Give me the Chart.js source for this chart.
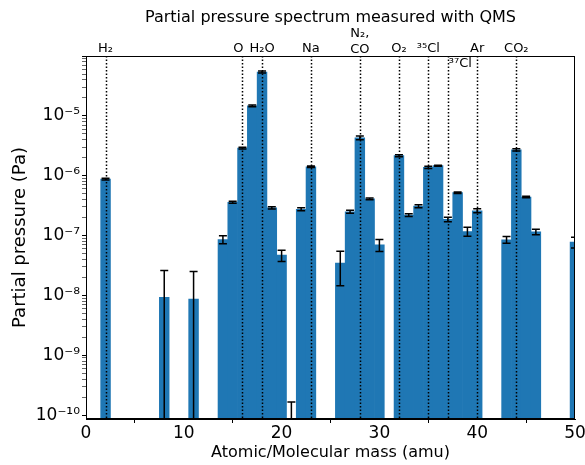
<!DOCTYPE html>
<html>
<head>
<meta charset="utf-8">
<script src="https://cdn.jsdelivr.net/npm/chart.js@4/dist/chart.umd.min.js"></script>
<style>
  html, body { margin: 0; padding: 0; background: #fff; }
  #wrap { width: 585px; height: 465px; }
</style>
</head>
<body>
<div id="wrap"><canvas id="qmsChart" width="585" height="465"></canvas></div>
<script>
// masses (amu) and partial pressures (Pa)
const masses    = [2, 8, 11, 14, 15, 16, 17, 18, 19, 20, 21, 22, 23, 26, 27, 28, 29, 30, 32, 33, 34, 35, 36, 37, 38, 39, 40, 43, 44, 45, 46, 50];
const pressures = [8.8e-7, 9.3e-9, 8.7e-9, 8.6e-8, 3.6e-7, 2.9e-6, 1.47e-5, 5.4e-5, 2.9e-7, 4.7e-8, 2e-11, 2.75e-7, 1.41e-6,
                   3.45e-8, 2.5e-7, 4.3e-6, 4.1e-7, 7.0e-8, 2.16e-6, 2.2e-7, 3.1e-7, 1.38e-6, 1.47e-6, 1.86e-7, 5.2e-7, 1.17e-7,
                   2.6e-7, 8.5e-8, 2.7e-6, 4.4e-7, 1.15e-7, 7.8e-8];
const errors    = [3e-8, 1.67e-8, 1.63e-8, 1.3e-8, 1.5e-8, 1e-7, 5e-7, 2e-6, 1.2e-8, 1.0e-8, 1.45e-10, 1.5e-8, 4e-8,
                   2e-8, 1.5e-8, 3e-7, 1.2e-8, 1.6e-8, 8e-8, 1.2e-8, 1.8e-8, 6e-8, 3e-8, 1.6e-8, 1.5e-8, 2e-8,
                   2e-8, 1.1e-8, 1.2e-7, 1.2e-8, 1.2e-8, 1.6e-8];

// species marked with dotted lines
const lineMasses = [2, 16, 18, 23, 28, 32, 35, 37, 40, 44];
const lineLabels = ['H₂', 'O', 'H₂O', 'Na', ['N₂,', 'CO'], 'O₂', '³⁵Cl', '³⁷Cl', 'Ar', 'CO₂'];

const xTicks = [0, 10, 20, 30, 40, 50];
const yExps  = [-10, -9, -8, -7, -6, -5];
const supers = {'-': '⁻', '0': '⁰', '1': '¹', '2': '²', '3': '³', '4': '⁴', '5': '⁵', '6': '⁶', '7': '⁷', '8': '⁸', '9': '⁹'};

const FONT = 'DejaVu Sans';
const TITLE = 'Partial pressure spectrum measured with QMS';

// error bars + dotted species lines + box + title
const extras = {
  id: 'extras',
  afterDatasetsDraw(chart) {
    const c = chart.ctx, a = chart.chartArea;
    const xs = chart.scales.x, ys = chart.scales.y;
    c.save();
    c.beginPath();
    c.rect(a.left, a.top - 1, a.right - a.left, a.bottom - a.top + 2);
    c.clip();

    c.strokeStyle = '#000';
    c.lineWidth = 1.5;
    masses.forEach((m, i) => {
      const px = xs.getPixelForValue(m);
      const hi = pressures[i] + errors[i];
      const lo = pressures[i] - errors[i];
      const yHi = ys.getPixelForValue(hi);
      const yLo = lo > 0 ? ys.getPixelForValue(lo) : a.bottom + 5;
      c.beginPath();
      c.moveTo(px, yHi); c.lineTo(px, yLo);
      c.moveTo(px - 4, yHi); c.lineTo(px + 4, yHi);
      if (lo > 0) { c.moveTo(px - 4, yLo); c.lineTo(px + 4, yLo); }
      c.stroke();
    });

    c.setLineDash([1.5, 2]);
    c.lineWidth = 1.5;
    lineMasses.forEach(m => {
      const px = Math.round(xs.getPixelForValue(m)) + 0.5;
      c.beginPath();
      c.moveTo(px, a.top); c.lineTo(px, a.bottom);
      c.stroke();
    });
    c.restore();

    c.save();
    c.strokeStyle = '#000';
    c.lineWidth = 1;
    c.strokeRect(a.left + 0.5, a.top + 0.5, a.right - a.left - 1, a.bottom - a.top - 1);

    c.fillStyle = '#000';
    c.textBaseline = 'middle';
    c.textAlign = 'center';
    c.font = '16px "' + FONT + '"';
    c.fillText(TITLE, (a.left + a.right) / 2, 18);

    c.font = '13px "' + FONT + '"';
    lineMasses.forEach((m, i) => {
      const px = xs.getPixelForValue(m);
      const lab = lineLabels[i];
      if (m === 37) {
        c.textAlign = 'left';
        c.fillText(lab, px + 1, a.top + 8);
      } else if (Array.isArray(lab)) {
        c.textAlign = 'center';
        c.fillText(lab[0], px, a.top - 22);
        c.fillText(lab[1], px, a.top - 6);
      } else {
        c.textAlign = 'center';
        const off = m === 16 ? -4 : 0;
        c.fillText(lab, px + off, a.top - 7);
      }
    });
    c.restore();
  }
};

new Chart(document.getElementById('qmsChart'), {
  type: 'bar',
  data: {
    datasets: [{
      data: masses.map((m, i) => ({x: m, y: pressures[i]})),
      backgroundColor: '#1f77b4',
      borderWidth: 0,
      barPercentage: 1,
      categoryPercentage: 1
    }]
  },
  options: {
    responsive: false,
    animation: false,
    layout: {padding: {left: 0, right: 10, top: 56, bottom: 0}},
    plugins: {
      legend: {display: false},
      tooltip: {enabled: false},
      title: {display: false}
    },
    scales: {
      x: {
        type: 'linear',
        min: 0, max: 50,
        offset: false,
        afterBuildTicks: s => { s.ticks = xTicks.map(v => ({value: v})); },
        afterFit: s => { s.height = 46; s.paddingLeft = 0; s.paddingRight = 0; },
        ticks: {color: '#000', font: {family: FONT, size: 17}, padding: 0, maxRotation: 0},
        grid: {drawOnChartArea: false, tickLength: 4, color: '#000'},
        border: {color: '#000', width: 1},
        title: {display: true, text: 'Atomic/Molecular mass (amu)', color: '#000',
                font: {family: FONT, size: 16}, padding: {top: 0, bottom: 3}}
      },
      y: {
        type: 'logarithmic',
        min: 8.6e-11, max: 1e-4,
        afterBuildTicks: s => {
          const t = [];
          yExps.concat([-4]).forEach(e => {
            for (let k = 1; k <= 9; k++) {
              const v = k * Math.pow(10, e);
              if (v >= s.min && v <= s.max * 1.0001) t.push({value: v, major: k === 1});
            }
          });
          s.ticks = t;
        },
        afterFit: s => { s.width = 86; s.paddingTop = 0; s.paddingBottom = 0; },
        ticks: {
          color: '#000', font: {family: FONT, size: 17}, padding: 2, autoSkip: false,
          callback: function (v) {
            const e = Math.round(Math.log10(v));
            if (Math.abs(v / Math.pow(10, e) - 1) > 1e-6 || !yExps.includes(e)) return '';
            return '10' + String(e).split('').map(ch => supers[ch]).join('');
          }
        },
        grid: {drawOnChartArea: false, tickLength: 4, color: '#000',
               lineWidth: ctx => (ctx.tick && ctx.tick.major ? 1 : 0.6)},
        border: {color: '#000', width: 1},
        title: {display: true, text: 'Partial pressure (Pa)', color: '#000',
                font: {family: FONT, size: 18}, padding: {top: 10, bottom: 0}}
      }
    }
  },
  plugins: [extras]
});
</script>
</body>
</html>
